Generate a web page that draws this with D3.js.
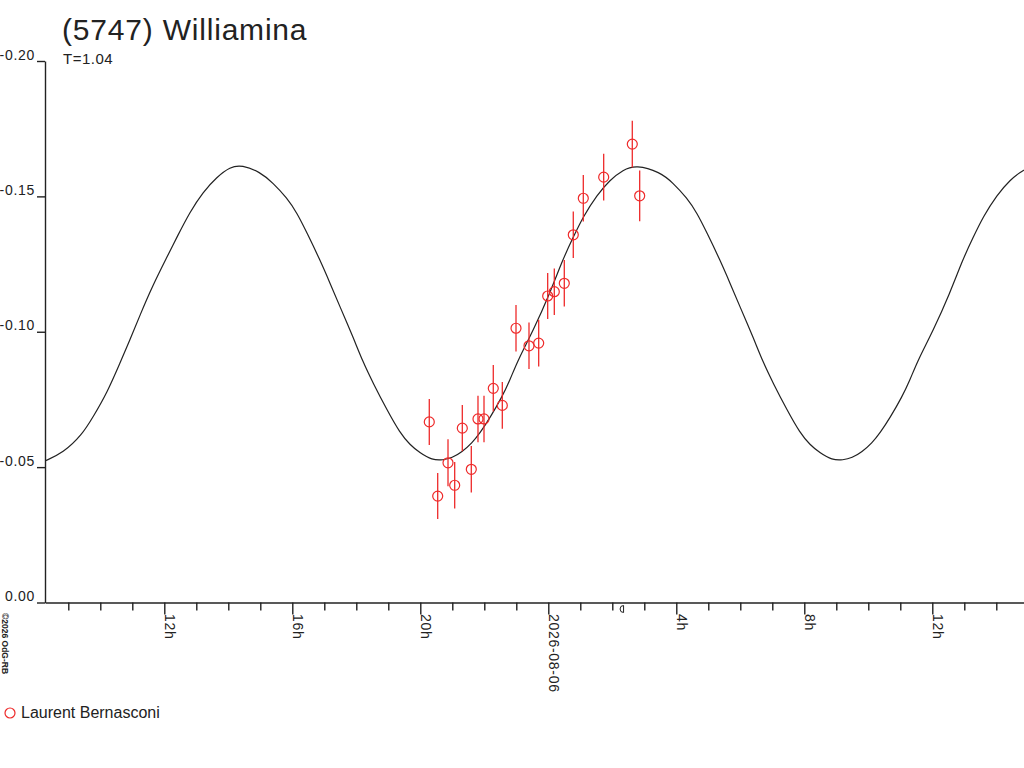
<!DOCTYPE html>
<html><head><meta charset="utf-8">
<script src="https://cdn.jsdelivr.net/npm/d3@7"></script>
<style>
body{margin:0;background:#fff}
svg{display:block}
text{font-family:"Liberation Sans",Arial,sans-serif;fill:#222}
</style>
</head><body>
<svg id="c" width="1024" height="768"></svg>
<script>
// ---------- data (hours are counted from 2026-08-05 00:00 UT) ----------
const title = "(5747) Williamina";
const subtitle = "T=1.04";
const observer = "Laurent Bernasconi";
const copyright = "\u00A92026 OdG-RB";

const yTickValues = [0, -0.05, -0.10, -0.15, -0.20];
const xMinorHours = [9,10,11,12,13,14,15,16,17,18,19,20,21,22,23,24,25,26,27,28,29,30,31,32,33,34,35,36,37,38];
const xMajorHours = [12, 16, 20, 24, 28, 32, 36];
const xMajorLabels = ["12h", "16h", "20h", "2026-08-06", "4h", "8h", "12h"];
const moonHours = [26.29];

// fitted light curve
const fitHours = [8.272,8.834,9.428,9.772,10.209,10.616,10.928,11.241,11.647,12.084,12.397,12.803,13.209,13.647,14.053,14.428,
  14.991,15.397,15.834,16.147,16.459,16.866,17.178,17.491,17.897,18.209,18.522,18.959,19.366,19.678,19.991,20.366,20.709,
  20.991,21.303,21.616,21.866,22.178,22.553,22.803,23.053,23.522,24.053,24.459,24.772,25.084,25.522,25.928,26.334,26.741,
  27.491,27.897,28.334,28.647,28.959,29.366,29.678,29.991,30.397,30.709,31.022,31.459,31.866,32.178,32.491,32.866,33.209,
  33.491,33.803,34.116,34.366,34.678,35.053,35.303,35.553,36.022,36.553,36.959,37.272,37.584,38.022,38.428,38.834,39.241];
const fitMags = [-0.0523,-0.0552,-0.0619,-0.0685,-0.0774,-0.0885,-0.0970,-0.1062,-0.1173,-0.1276,-0.1350,-0.1443,-0.1516,-0.1572,-0.1609,-0.1616,
  -0.1590,-0.1550,-0.1494,-0.1439,-0.1365,-0.1265,-0.1180,-0.1092,-0.0981,-0.0888,-0.0811,-0.0711,-0.0626,-0.0582,-0.0552,-0.0526,-0.0526,
  -0.0534,-0.0556,-0.0589,-0.0626,-0.0682,-0.0759,-0.0822,-0.0896,-0.1003,-0.1143,-0.1269,-0.1347,-0.1424,-0.1505,-0.1561,-0.1598,-0.1616,
  -0.1590,-0.1550,-0.1494,-0.1439,-0.1365,-0.1265,-0.1180,-0.1092,-0.0981,-0.0888,-0.0811,-0.0711,-0.0626,-0.0582,-0.0552,-0.0526,-0.0526,
  -0.0534,-0.0556,-0.0589,-0.0626,-0.0682,-0.0759,-0.0822,-0.0896,-0.1003,-0.1143,-0.1269,-0.1347,-0.1424,-0.1505,-0.1561,-0.1598,-0.1616];

// observations (Laurent Bernasconi)
const obsHours = [20.281,20.544,20.866,21.075,21.313,21.594,21.803,21.991,22.281,22.563,22.991,23.397,23.700,23.981,24.188,24.500,24.781,25.094,25.731,26.625,26.856];
const obsMags  = [-0.0667,-0.0393,-0.0516,-0.0433,-0.0644,-0.0492,-0.0678,-0.0678,-0.0791,-0.0728,-0.1013,-0.0948,-0.0958,-0.1132,-0.1148,-0.1179,-0.1358,-0.1493,-0.1571,-0.1693,-0.1502];
const obsErrs  = [0.0085,0.0085,0.0087,0.0086,0.0085,0.0086,0.0086,0.0086,0.0086,0.0086,0.0086,0.0086,0.0086,0.0085,0.0086,0.0086,0.0086,0.0086,0.0086,0.0086,0.0094];

// ---------- drawing ----------
const ink = "#222", red = "#ee2a2a";
const svg = d3.select("#c");
const x = d3.scaleLinear().domain([8.272, 38.866]).range([45, 1024]);
const y = d3.scaleLinear().domain([0, -0.2]).range([602.5, 61]);

svg.append("defs").append("clipPath").attr("id", "clip")
  .append("rect").attr("x", 45).attr("y", 0).attr("width", 979).attr("height", 602);

// title
svg.append("text").attr("x", 62).attr("y", 40).attr("font-size", 30).attr("letter-spacing", 0.8).text(title);
svg.append("text").attr("x", 63).attr("y", 64).attr("font-size", 15).attr("letter-spacing", 0.5).text(subtitle);

// y axis
const yAxis = d3.axisLeft(y).tickValues(yTickValues).tickSize(8).tickSizeOuter(0).tickPadding(2)
  .tickFormat(d => d.toFixed(2));
const gy = svg.append("g").attr("transform", "translate(45,0)").call(yAxis);
gy.select(".domain").attr("stroke", ink).attr("stroke-width", 1.4);
gy.selectAll(".tick line").attr("stroke", ink).attr("stroke-width", 1.4);
gy.selectAll(".tick text").attr("font-family", '"Liberation Sans",Arial,sans-serif').attr("font-size", 14)
  .attr("letter-spacing", 0.7).attr("fill", ink).attr("dy", 0).attr("y", -2);

// x axis
const xAxis = d3.axisBottom(x).tickValues(xMinorHours).tickSize(8).tickSizeOuter(0).tickFormat("");
const gx = svg.append("g").attr("transform", "translate(0,602.5)").call(xAxis);
gx.select(".domain").attr("stroke", ink).attr("stroke-width", 1.4);
gx.selectAll(".tick line").attr("stroke", ink).attr("stroke-width", 1.4)
  .attr("y2", d => xMajorHours.includes(d) ? 12 : 8);
const lab = svg.append("g");
xMajorHours.forEach((h, i) => {
  lab.append("text")
    .attr("transform", `translate(${x(h) + 0.5},614) rotate(90)`)
    .attr("font-size", 14).attr("letter-spacing", 0.7)
    .text(xMajorLabels[i]);
});
// moon marker
moonHours.forEach(h => {
  const cx = x(h);
  svg.append("path")
    .attr("d", `M${cx + 2},605.5 A3.5,3.5 0 0 0 ${cx + 2},612.5 Z`)
    .attr("fill", "none").attr("stroke", ink).attr("stroke-width", 1);
});

// copyright
svg.append("text").attr("transform", "translate(1.5,613) rotate(90)")
  .attr("font-size", 8.5).attr("font-weight", "bold").text(copyright);

// fitted curve
const plot = svg.append("g").attr("clip-path", "url(#clip)");
const fit = fitHours.map((h, i) => [h, fitMags[i]]);
plot.append("path").datum(fit)
  .attr("d", d3.line().x(d => x(d[0])).y(d => y(d[1])).curve(d3.curveBasis))
  .attr("fill", "none").attr("stroke", ink).attr("stroke-width", 1.2);

// observations
const obs = obsHours.map((h, i) => ({h, m: obsMags[i], e: obsErrs[i]}));
plot.selectAll("line.err").data(obs).enter().append("line").attr("class", "err")
  .attr("x1", d => x(d.h)).attr("x2", d => x(d.h))
  .attr("y1", d => y(d.m - d.e)).attr("y2", d => y(d.m + d.e))
  .attr("stroke", red).attr("stroke-width", 1.3);
plot.selectAll("circle.obs").data(obs).enter().append("circle").attr("class", "obs")
  .attr("cx", d => x(d.h)).attr("cy", d => y(d.m)).attr("r", 5)
  .attr("fill", "none").attr("stroke", red).attr("stroke-width", 1.2);

// legend
svg.append("circle").attr("cx", 10).attr("cy", 713).attr("r", 5)
  .attr("fill", "none").attr("stroke", red).attr("stroke-width", 1.2);
svg.append("text").attr("x", 21).attr("y", 718).attr("font-size", 16).text(observer);
</script>
</body></html>
